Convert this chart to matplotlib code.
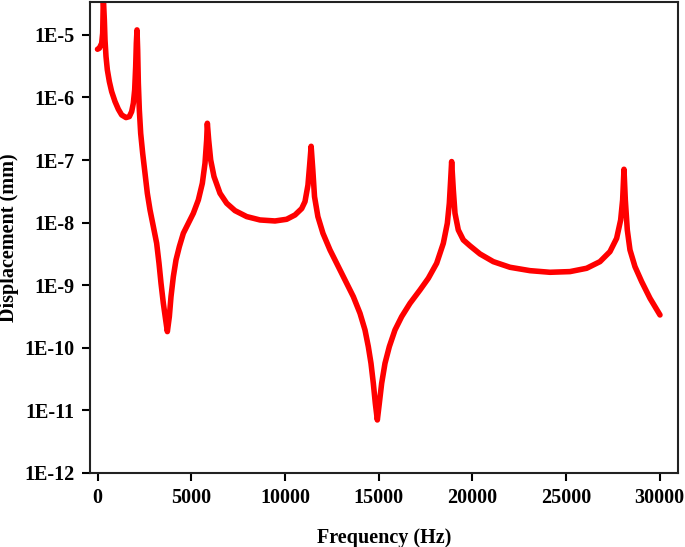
import numpy as np
import matplotlib
matplotlib.use("Agg")
import matplotlib.pyplot as plt
from matplotlib.ticker import FixedLocator, FixedFormatter, NullLocator

# Frequency (Hz) points
freq_hz = [0, 98, 223, 276, 311, 365, 400, 454, 525, 632, 756, 934, 1112, 1290, 1521,
           1699, 1823, 1912, 1983, 2037, 2072, 2108, 2143, 2179, 2232, 2304, 2410,
           2535, 2659, 2802, 2980, 3157, 3282, 3389, 3513, 3638, 3727, 3833, 3922,
           4047, 4189, 4367, 4580, 4847, 5114, 5381, 5594, 5736, 5825, 5861, 5932,
           6039, 6217, 6537, 6893, 7337, 7960, 8671, 9472, 10094, 10539, 10895,
           11072, 11230, 11320, 11400, 11490, 11580, 11760, 12030, 12406, 12762,
           13207, 13651, 14007, 14274, 14451, 14594, 14718, 14825, 14932, 15038,
           15163, 15341, 15572, 15874, 16230, 16675, 17208, 17653, 18098, 18453,
           18667, 18774, 18845, 18898, 18987, 19076, 19253, 19520, 19876, 20410,
           21121, 22010, 23078, 24145, 25212, 26101, 26813, 27346, 27702, 27916,
           28022, 28094, 28165, 28271, 28414, 28681, 29037, 29481, 30015]
# log10 of displacement (mm)
log_disp = [-5.229, -5.213, -5.133, -4.973, -4.40, -4.760, -5.080, -5.346, -5.559,
            -5.746, -5.906, -6.065, -6.188, -6.279, -6.321, -6.305, -6.225, -6.092,
            -5.879, -5.506, -5.133, -4.920, -5.240, -5.772, -6.199, -6.572, -6.891,
            -7.211, -7.531, -7.797, -8.063, -8.330, -8.649, -8.969, -9.289, -9.555,
            -9.741, -9.502, -9.182, -8.862, -8.596, -8.383, -8.170, -8.010, -7.850,
            -7.637, -7.371, -7.051, -6.678, -6.412, -6.678, -6.998, -7.264, -7.531,
            -7.690, -7.808, -7.903, -7.957, -7.973, -7.946, -7.877, -7.775, -7.664,
            -7.400, -7.080, -6.780, -7.160, -7.584, -7.903, -8.170, -8.436, -8.649,
            -8.916, -9.182, -9.448, -9.715, -9.981, -10.248, -10.567, -10.887,
            -11.153, -10.887, -10.567, -10.248, -9.981, -9.715, -9.502, -9.289,
            -9.076, -8.889, -8.649, -8.330, -8.010, -7.690, -7.317, -7.024, -7.477,
            -7.850, -8.117, -8.276, -8.370, -8.500, -8.623, -8.713, -8.767, -8.793,
            -8.782, -8.729, -8.623, -8.463, -8.250, -7.957, -7.637, -7.147, -7.637,
            -8.117, -8.436, -8.703, -8.942, -9.208, -9.475]

x_ticks = [0, 5000, 10000, 15000, 20000, 25000, 30000]
x_tick_labels = ["0", "5000", "10000", "15000", "20000", "25000", "30000"]
y_ticks = [1e-12, 1e-11, 1e-10, 1e-9, 1e-8, 1e-7, 1e-6, 1e-5]
y_tick_labels = ["1E-12", "1E-11", "1E-10", "1E-9", "1E-8", "1E-7", "1E-6", "1E-5"]

plt.rcParams['font.family'] = ['Liberation Serif', 'DejaVu Serif']
plt.rcParams['font.weight'] = 'bold'

fig = plt.figure(figsize=(6.85, 5.47), dpi=100)
ax = fig.add_axes([0.1314, 0.1353, 0.8584, 0.8617])

disp = 10.0 ** np.array(log_disp)
ax.plot(freq_hz, disp, color='#ff0000', lw=4.0, solid_capstyle='round',
        solid_joinstyle='round')

ax.set_yscale('log')
ax.set_xlim(-400, 30977)
ax.set_ylim(1e-12, 3.4e-5)

ax.xaxis.set_major_locator(FixedLocator(x_ticks))
ax.xaxis.set_major_formatter(FixedFormatter(x_tick_labels))
ax.yaxis.set_major_locator(FixedLocator(y_ticks))
ax.yaxis.set_major_formatter(FixedFormatter(y_tick_labels))
ax.yaxis.set_minor_locator(NullLocator())
ax.xaxis.set_minor_locator(NullLocator())

ax.tick_params(axis='both', direction='out', length=6, width=1.5, labelsize=14.5, pad=5)
for lab in ax.get_xticklabels() + ax.get_yticklabels():
    lab.set_fontweight('bold')
for sp in ax.spines.values():
    sp.set_linewidth(1.5)
    sp.set_color('#222222')

ax.set_xlabel('Frequency (Hz)', fontsize=14.5, fontweight='bold', labelpad=14)
ax.set_ylabel('Displacement (mm)', fontsize=14.5, fontweight='bold', labelpad=4)

fig.savefig('out.png', dpi=100)
